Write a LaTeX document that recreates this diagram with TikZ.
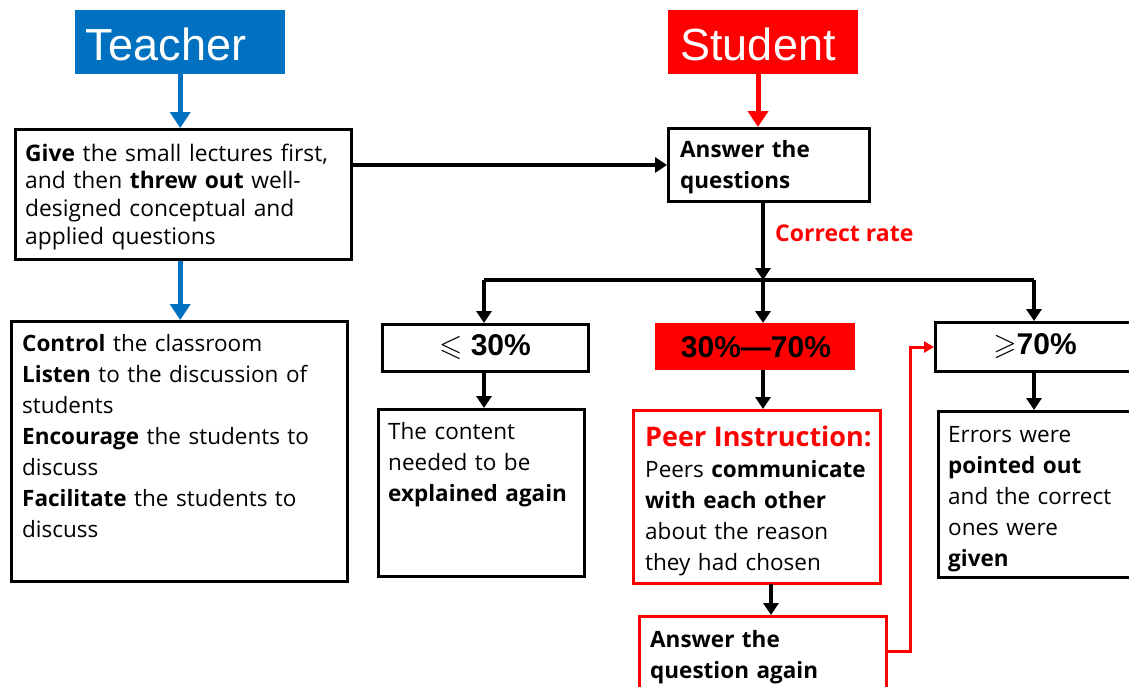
\documentclass[tikz,border=0pt]{standalone}
\usepackage{amssymb}
\usepackage{fontspec}
\setmainfont{Open Sans}
\newfontfamily\arialf{Liberation Sans}
\usetikzlibrary{arrows.meta,calc}
\definecolor{tblue}{RGB}{0,112,192}
\definecolor{sred}{RGB}{255,0,0}
\begin{document}
\begin{tikzpicture}[x=1pt,y=-1pt,
  box/.style={draw=black,line width=3pt,anchor=north west,inner sep=0pt},
  redbox/.style={draw=sred,line width=3pt,anchor=north west,inner sep=0pt},
  head/.style={anchor=center,inner sep=0pt,text=white,font=\arialf\fontsize{45}{50}\selectfont},
  txt/.style={anchor=base west,inner sep=0pt,align=left,font=\fontsize{22.5}{31}\selectfont},
  pct/.style={anchor=center,inner sep=0pt,font=\arialf\bfseries\fontsize{30}{34}\selectfont},
  barr/.style={line width=4pt,-{Triangle[width=15pt,length=12pt]}},
  blarr/.style={tblue,line width=5pt,-{Triangle[width=20pt,length=16pt]}},
  rarr/.style={sred,line width=5pt,-{Triangle[width=20pt,length=16pt]}},
  rline/.style={sred,line width=3pt,-{Triangle[width=11pt,length=10pt]}}]
\clip (0,0) rectangle (1129,686);
\fill[white] (0,0) rectangle (1129,686);
% headers
\node[fill=tblue,anchor=north west,minimum width=210pt,minimum height=64pt,inner sep=0pt] (teacher) at (75,10) {};
\node[head] (teachertxt) at (166,44) {Teacher};
\node[fill=sred,anchor=north west,minimum width=190pt,minimum height=64pt,inner sep=0pt] (student) at (668,10) {};
\node[head] (studenttxt) at (758,44) {Student};
% boxes
\node[box,minimum width=336pt,minimum height=130pt] (give) at (14,128) {};
\node[txt,text width=330pt,font=\fontsize{22.8}{27.7}\selectfont] (givetxt) at (25,161)
  {\textbf{Give} the small lectures first,\\and then \textbf{threw out} well-\\designed conceptual and\\applied questions};
\node[box,minimum width=336pt,minimum height=260pt] (ctrl) at (10,320) {};
\node[txt,text width=330pt] (ctrltxt) at (22,351)
  {\textbf{Control} the classroom\\\textbf{Listen} to the discussion of\\students\\\textbf{Encourage} the students to\\discuss\\\textbf{Facilitate} the students to\\discuss};
\node[box,minimum width=201pt,minimum height=73pt] (ans) at (667,127) {};
\node[txt,text width=190pt] (anstxt) at (680,157) {\textbf{Answer the}\\\textbf{questions}};
\node[anchor=base west,inner sep=0pt,text=sred,font=\bfseries\fontsize{23}{27}\selectfont] (rate) at (775,241) {Correct rate};
\node[box,minimum width=206pt,minimum height=47pt] (le30) at (381,323) {};
\node[pct] (le30txt) at (485,347) {$\leqslant$ 30\%};
\node[fill=sred,anchor=north west,inner sep=0pt,minimum width=200pt,minimum height=47pt] (mid) at (655,323) {};
\node[pct] (midtxt) at (756,347) {30\%—70\%};
\node[box,minimum width=240pt,minimum height=49pt] (ge70) at (934,321) {};
\node[pct] (ge70txt) at (1035,346) {$\geqslant$70\%};
\node[box,minimum width=206pt,minimum height=167pt] (content) at (377,408) {};
\node[txt,text width=200pt] (contenttxt) at (388,439)
  {The content\\needed to be\\\textbf{explained again}};
\node[redbox,minimum width=247pt,minimum height=173pt] (peer) at (632,409) {};
\node[txt,text width=240pt] (peertxt) at (645,446)
  {{\color{sred}\bfseries\fontsize{27}{31}\selectfont Peer Instruction:}\\Peers \textbf{communicate}\\\textbf{with each other}\\about the reason\\they had chosen};
\node[redbox,minimum width=247pt,minimum height=100pt] (again) at (638,615) {};
\node[txt,text width=240pt] (againtxt) at (650,647) {\textbf{Answer the}\\\textbf{question again}};
\node[box,minimum width=240pt,minimum height=166pt] (errors) at (937,410) {};
\node[txt,text width=190pt] (errorstxt) at (948,442)
  {Errors were\\\textbf{pointed out}\\and the correct\\ones were\\\textbf{given}};
% connectors
\draw[blarr] (teacher.south) -- (teacher.south |- give.north);
\draw[blarr] (teacher.south |- give.south) -- (teacher.south |- ctrl.north);
\draw[rarr] (758,74) -- (758,127);
\draw[barr] (give.east |- ans.west) -- (ans.west);
\coordinate (split) at (763,280);
\coordinate (bl) at (484,280);
\coordinate (br) at (1034,280);
\draw[barr] (split |- ans.south) -- (split);
\draw[line width=4pt] (bl) -- (br);
\draw[barr] (bl) -- (bl |- le30.north);
\draw[barr] (split) -- (split |- mid.north);
\draw[barr] (br) -- (br |- ge70.north);
\draw[barr] (bl |- le30.south) -- (bl |- content.north);
\draw[barr] (split |- mid.south) -- (split |- peer.north);
\coordinate (pa) at (771,584);
\draw[barr] (pa) -- (pa |- again.north);
\draw[barr] (br |- ge70.south) -- (br |- errors.north);
\coordinate (rc) at (910,651);
\draw[rline] (rc -| again.east) -- (rc) |- (ge70.west);
\end{tikzpicture}
\end{document}
